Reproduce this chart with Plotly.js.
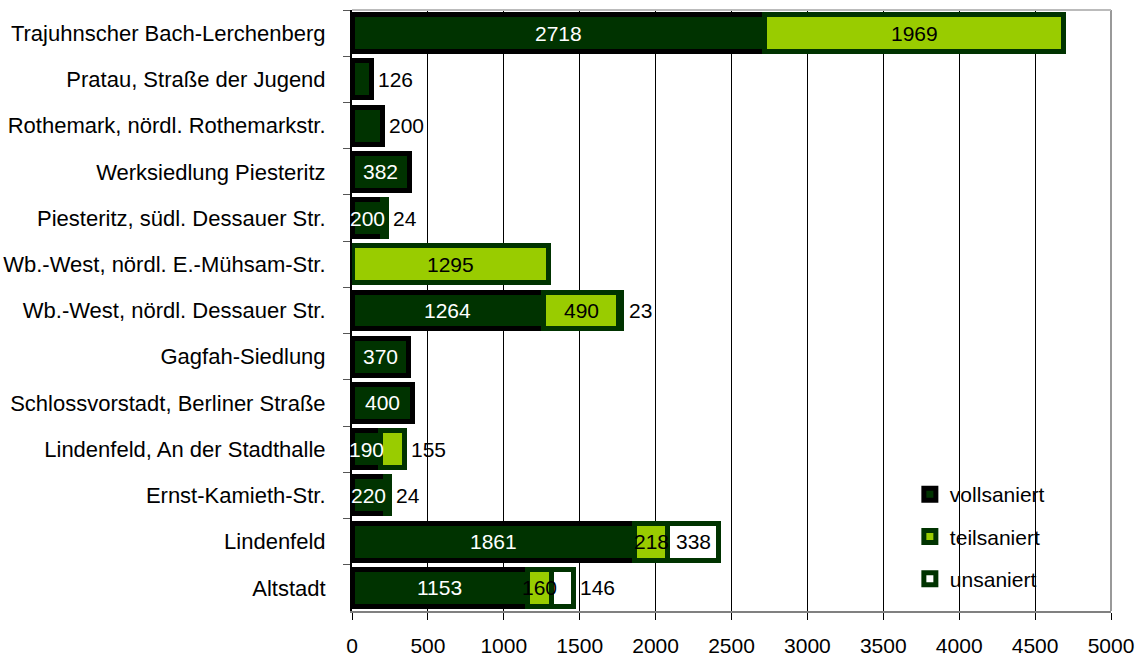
<!DOCTYPE html>
<html>
<head>
<meta charset="utf-8">
<script src="https://cdn.plot.ly/plotly-3.0.1.min.js"></script>
<style>html,body{margin:0;padding:0;background:#fff;}#chart{width:1147px;height:661px;}</style>
</head>
<body>
<div id="chart"></div>
<script>
// Categories, top to bottom
const categories = [
  "Trajuhnscher Bach-Lerchenberg",
  "Pratau, Straße der Jugend",
  "Rothemark, nördl. Rothemarkstr.",
  "Werksiedlung Piesteritz",
  "Piesteritz, südl. Dessauer Str.",
  "Wb.-West, nördl. E.-Mühsam-Str.",
  "Wb.-West, nördl. Dessauer Str.",
  "Gagfah-Siedlung",
  "Schlossvorstadt, Berliner Straße",
  "Lindenfeld, An der Stadthalle",
  "Ernst-Kamieth-Str.",
  "Lindenfeld",
  "Altstadt"
];
const vollsaniert = [2718, 126, 200, 382, 200, 0, 1264, 370, 400, 190, 220, 1861, 1153];
const teilsaniert = [1969, 0, 0, 0, 24, 1295, 490, 0, 0, 155, 24, 218, 160];
const unsaniert   = [0, 0, 0, 0, 0, 0, 23, 0, 0, 0, 0, 338, 146];
const seriesNames = ["vollsaniert", "teilsaniert", "unsaniert"];
const xTicks = [0, 500, 1000, 1500, 2000, 2500, 3000, 3500, 4000, 4500, 5000];

// Labels that the original shows to the right of the bar: [category index, series index]
const outsideLabels = [[1, 0], [2, 0], [4, 1], [6, 2], [9, 1], [10, 1], [12, 2]];

const FONT = "Liberation Sans, Arial, sans-serif";
const FS = 21;
const series = [vollsaniert, teilsaniert, unsaniert];
const fills = ["#003300", "#99cc00", "#ffffff"];
const lines = ["#000000", "#003300", "#003300"];
const txtCol = ["#ffffff", "#000000", "#000000"];

function isOutside(ci, si) {
  return outsideLabels.some(p => p[0] === ci && p[1] === si);
}

const traces = series.map((vals, si) => ({
  type: "bar",
  orientation: "h",
  name: seriesNames[si],
  legendgroup: "g" + si,
  y: categories,
  x: vals.map(v => v === 0 ? null : v),
  cliponaxis: false,
  marker: {color: fills[si], line: {color: lines[si], width: 5}},
  hoverinfo: "x+y+name"
}));

// data labels, positioned in data coordinates (drawn above all bars)
const annotations = [];
categories.forEach((cat, ci) => {
  let start = 0;
  let end = 0;
  for (let k = 0; k < series.length; k++) end += series[k][ci];
  series.forEach((vals, si) => {
    const v = vals[ci];
    if (v !== 0) {
      if (isOutside(ci, si)) {
        annotations.push({
          x: end, y: cat, xref: "x", yref: "y",
          text: String(v), showarrow: false,
          xanchor: "left", xshift: 5,
          font: {family: FONT, size: FS, color: "#000"}
        });
      } else {
        annotations.push({
          x: start + v / 2, y: cat, xref: "x", yref: "y",
          text: String(v), showarrow: false,
          xanchor: "center",
          font: {family: FONT, size: FS, color: txtCol[si]}
        });
      }
    }
    start += v;
  });
});

const layout = {
  width: 1147, height: 661,
  margin: {l: 352, r: 36, t: 10, b: 50, pad: 0},
  paper_bgcolor: "#ffffff", plot_bgcolor: "#ffffff",
  barmode: "stack",
  bargap: 0.2,
  font: {family: FONT, size: FS, color: "#000"},
  showlegend: true,
  legend: {
    x: 0.735, y: 0.02, xanchor: "left", yanchor: "bottom",
    traceorder: "grouped", tracegroupgap: 12,
    bgcolor: "rgba(0,0,0,0)",
    font: {family: FONT, size: FS, color: "#000"}
  },
  xaxis: {
    range: [0, 5000],
    tickvals: xTicks,
    ticktext: xTicks.map(String),
    showgrid: true, gridcolor: "#000000", gridwidth: 1,
    zeroline: false,
    showline: true, linecolor: "#808080", linewidth: 2, mirror: false,
    ticks: "outside", ticklen: 7, tickcolor: "#000", tickwidth: 1,
    ticklabelstandoff: 8,
    tickfont: {family: FONT, size: FS, color: "#000"}
  },
  yaxis: {
    type: "category",
    categoryorder: "array", categoryarray: categories,
    autorange: "reversed",
    showgrid: false, zeroline: false,
    showline: true, linecolor: "#000", linewidth: 2, mirror: false,
    ticks: "outside", tickson: "boundaries", ticklen: 7, tickcolor: "#555",
    ticklabelstandoff: 20,
    tickfont: {family: FONT, size: 22, color: "#000"}
  },
  shapes: [
    {type: "line", xref: "paper", yref: "paper", x0: 1, x1: 1, y0: 0, y1: 1, line: {color: "#999", width: 2}},
    {type: "line", xref: "paper", yref: "paper", x0: 0, x1: 1, y0: 1, y1: 1, line: {color: "#bbb", width: 2}}
  ],
  annotations: annotations
};

Plotly.newPlot("chart", traces, layout, {displayModeBar: false, staticPlot: true});
</script>
</body>
</html>
